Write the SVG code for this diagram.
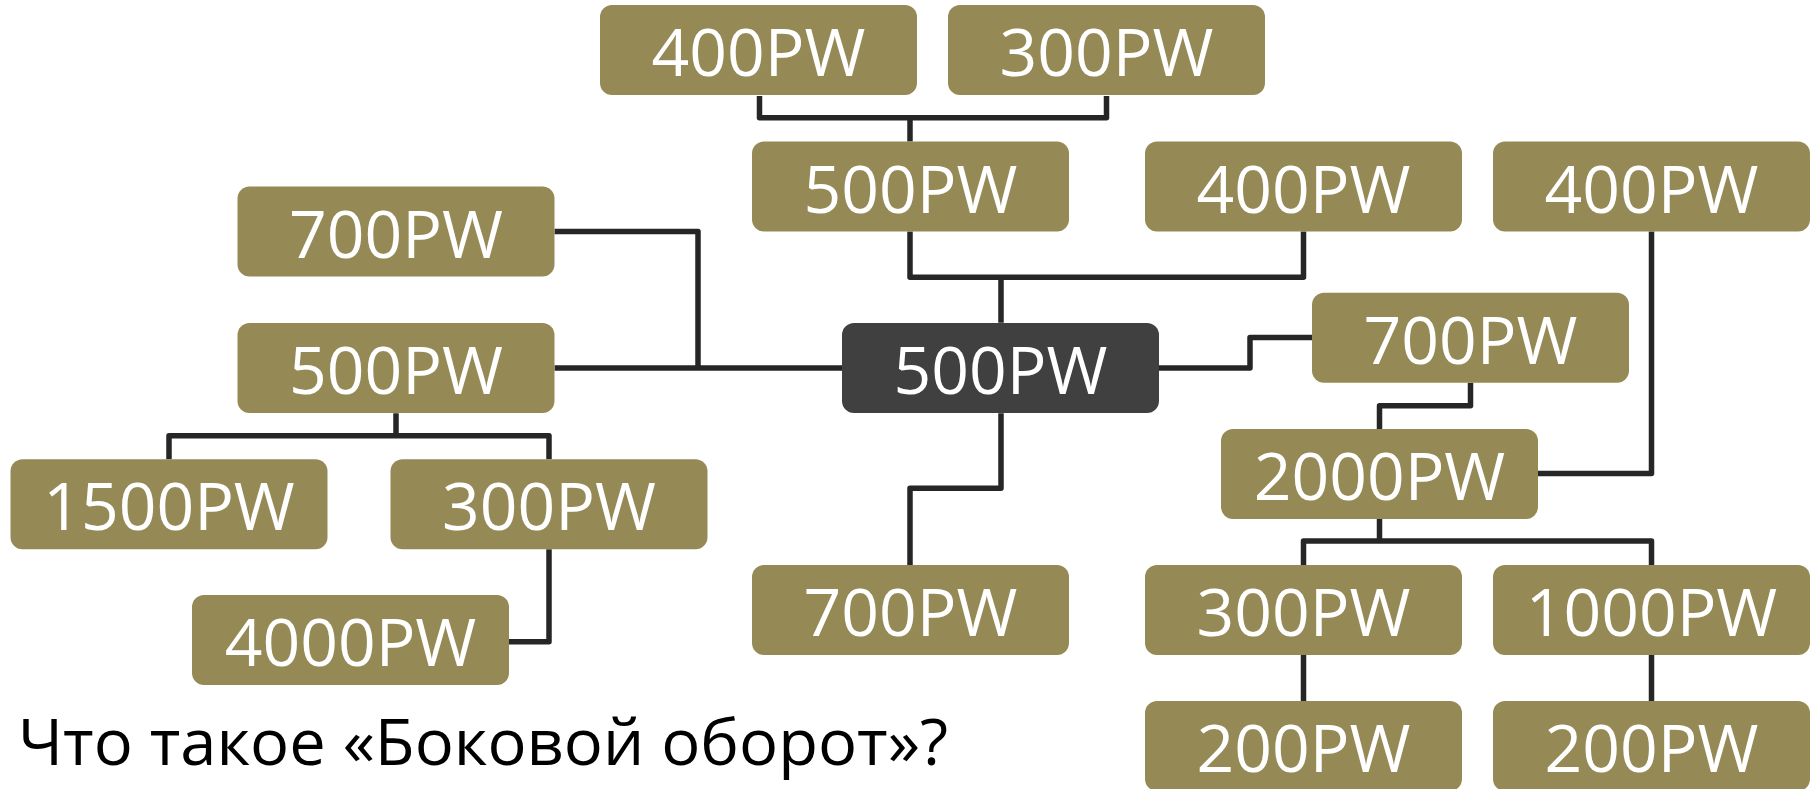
<svg xmlns="http://www.w3.org/2000/svg" width="1816" height="789" viewBox="0 0 1816 789">
<style>
.n rect{fill:#958A56}
.n.c rect{fill:#404040}
.n text{font-family:"Open Sans","Noto Sans",sans-serif;font-size:66px;fill:#FFFFFF;text-anchor:middle}
#links path{fill:none;stroke:#262626;stroke-width:5.5;stroke-linejoin:round}
.t{font-family:"Open Sans","Noto Sans",sans-serif;font-size:64px;fill:#000000}
</style>
<rect x="0" y="0" width="1816" height="789" fill="#FFFFFF"/>
<g id="links">
<path d="M759.5,96 V117.7 H1106.5 V96 M910,117.7 V141.5"/>
<path d="M910,231.5 V277.3 H1303.5 V231.5 M1001,277.3 V322.7"/>
<path d="M554.5,231.5 H698 V368 M554.5,368 H842"/>
<path d="M1159,368 H1250 V337.5 H1312"/>
<path d="M1470.5,382.7 V405.7 H1379.5 V429"/>
<path d="M1538,473.5 H1651.5 V231.5"/>
<path d="M1379.5,519 V541 M1303.5,565 V541 H1651.5 V565"/>
<path d="M1303.5,655 V701 M1651.5,655 V701"/>
<path d="M1001,413.3 V488.3 H910 V565"/>
<path d="M396,413.3 V435.7 M169,459.3 V435.7 H549 V459.3"/>
<path d="M549,549.3 V641.7 H509"/>
</g>
<g id="n-top400" class="n"><rect x="600" y="5" width="317" height="90" rx="12"/><text x="758.5" y="76">400PW</text></g>
<g id="n-top300" class="n"><rect x="948" y="5" width="317" height="90" rx="12"/><text x="1106.5" y="76">300PW</text></g>
<g id="n-mid500" class="n"><rect x="752" y="141.5" width="317" height="90" rx="12"/><text x="910.5" y="212.5">500PW</text></g>
<g id="n-mid400" class="n"><rect x="1145" y="141.5" width="317" height="90" rx="12"/><text x="1303.5" y="212.5">400PW</text></g>
<g id="n-right400" class="n"><rect x="1493" y="141.5" width="317" height="90" rx="12"/><text x="1651.5" y="212.5">400PW</text></g>
<g id="n-left700" class="n"><rect x="237.5" y="186.5" width="317" height="90" rx="12"/><text x="396" y="257.5">700PW</text></g>
<g id="n-left500" class="n"><rect x="237.5" y="323" width="317" height="90" rx="12"/><text x="396" y="394">500PW</text></g>
<g id="n-center" class="n c"><rect x="842" y="323" width="317" height="90" rx="12"/><text x="1000.5" y="394">500PW</text></g>
<g id="n-right700" class="n"><rect x="1312" y="292.7" width="317" height="90" rx="12"/><text x="1470.5" y="363.7">700PW</text></g>
<g id="n-2000" class="n"><rect x="1221" y="429" width="317" height="90" rx="12"/><text x="1379.5" y="500">2000PW</text></g>
<g id="n-1500" class="n"><rect x="10.5" y="459.3" width="317" height="90" rx="12"/><text x="169" y="530.3">1500PW</text></g>
<g id="n-left300" class="n"><rect x="390.5" y="459.3" width="317" height="90" rx="12"/><text x="549" y="530.3">300PW</text></g>
<g id="n-bottom700" class="n"><rect x="752" y="565" width="317" height="90" rx="12"/><text x="910.5" y="636">700PW</text></g>
<g id="n-right300" class="n"><rect x="1145" y="565" width="317" height="90" rx="12"/><text x="1303.5" y="636">300PW</text></g>
<g id="n-1000" class="n"><rect x="1493" y="565" width="317" height="90" rx="12"/><text x="1651.5" y="636">1000PW</text></g>
<g id="n-4000" class="n"><rect x="192" y="595" width="317" height="90" rx="12"/><text x="350.5" y="666">4000PW</text></g>
<g id="n-200a" class="n"><rect x="1145" y="701" width="317" height="90" rx="12"/><text x="1303.5" y="772">200PW</text></g>
<g id="n-200b" class="n"><rect x="1493" y="701" width="317" height="90" rx="12"/><text x="1651.5" y="772">200PW</text></g>
<text class="t" x="18" y="765" textLength="930" lengthAdjust="spacingAndGlyphs">Что такое «Боковой оборот»?</text>
</svg>
